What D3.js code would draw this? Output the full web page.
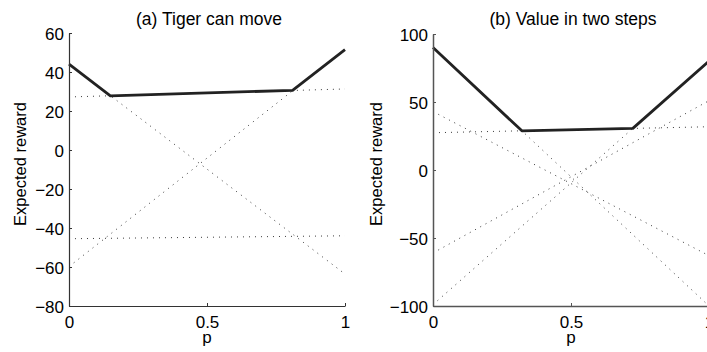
<!DOCTYPE html>
<html><head><meta charset="utf-8">
<script src="https://cdn.jsdelivr.net/npm/d3@7"></script>
<style>
body{margin:0;background:#fff}
svg{display:block}
text{font-family:"Liberation Sans",Arial,Helvetica,sans-serif;fill:#000}
</style>
</head><body><svg id="c" width="707" height="352"></svg>
<script>
// ---- data ----
const pTicks = [0, 0.5, 1];
const xLabel = "p";
const yLabel = "Expected reward";

const aTitle = "(a) Tiger can move";
const aYTicks = [-80, -60, -40, -20, 0, 20, 40, 60];
const aEnvP = [0, 0.15, 0.81, 1];
const aEnvV = [44, 27.8, 30.6, 51.5];
const aAlphaStart = [27.2, 44, -59.8, -45.5];
const aAlphaEnd = [31.3, -63.6, 51.5, -44];

const bTitle = "(b) Value in two steps";
const bYTicks = [-100, -50, 0, 50, 100];
const bEnvP = [0, 0.322, 0.724, 1];
const bEnvV = [90, 28.8, 30.6, 80];
const bAlphaStart = [27.4, 90, 43, -61, -99];
const bAlphaEnd = [31.8, -100, -63, 51, 80];

// ---- drawing ----
const svg = d3.select("#c");
const fmt = d => d < 0 ? "\u2212" + Math.abs(d) : String(d);

function panel(o) {
  const x = d3.scaleLinear().domain([0, 1]).range([o.x0, o.x1]);
  const y = d3.scaleLinear().domain([o.yTicks[0], o.yTicks[o.yTicks.length - 1]]).range([306, o.yTop]);
  const g = svg.append("g");
  const line = d3.line().x(d => x(d[0])).y(d => y(d[1]));

  // dotted alpha vectors
  o.start.forEach((s, i) => {
    g.append("path").attr("d", line([[0, s], [1, o.end[i]]]))
      .attr("fill", "none").attr("stroke", "#3a3a3a").attr("stroke-width", 1)
      .attr("stroke-dasharray", "1,5");
  });
  // envelope
  g.append("path").attr("d", line(o.envP.map((p, i) => [p, o.envV[i]])))
    .attr("fill", "none").attr("stroke", "#222").attr("stroke-width", 2.8)
    .attr("stroke-linejoin", "round");

  // axes
  const ax = g.append("g").attr("transform", `translate(0,${y.range()[0]})`)
    .call(d3.axisBottom(x).tickValues(pTicks).tickFormat(fmt).tickSizeInner(-3).tickSizeOuter(0).tickPadding(10));
  const ay = g.append("g").attr("transform", `translate(${o.x0},0)`)
    .call(d3.axisLeft(y).tickValues(o.yTicks).tickFormat(fmt).tickSizeInner(-3).tickSizeOuter(0).tickPadding(5));
  [ax, ay].forEach(a => {
    a.selectAll("path.domain").attr("stroke", o.axisColor).attr("stroke-width", o.axisW);
    a.selectAll(".tick line").attr("stroke", o.axisColor);
    a.selectAll("text").attr("font-size", 17).attr("font-family", null).attr("fill", "#000");
  });
  ay.selectAll("text").attr("dy", "0.36em");

  g.append("text").attr("x", (o.x0 + o.x1) / 2 + 2).attr("y", 24.5)
    .attr("text-anchor", "middle").attr("font-size", 17.5).text(o.title);
  g.append("text").attr("x", x(0.5)).attr("y", 343)
    .attr("text-anchor", "middle").attr("font-size", 17).text(xLabel);
  g.append("text").attr("transform", `translate(${o.ylx},164) rotate(-90)`)
    .attr("text-anchor", "middle").attr("font-size", 16.5).text(yLabel);
}

panel({x0: 69, x1: 345, yTop: 33, yTicks: aYTicks, envP: aEnvP, envV: aEnvV,
  start: aAlphaStart, end: aAlphaEnd, title: aTitle, ylx: 25.5, axisColor: "#333", axisW: 1.2});
panel({x0: 433, x1: 709, yTop: 34, yTicks: bYTicks, envP: bEnvP, envV: bEnvV,
  start: bAlphaStart, end: bAlphaEnd, title: bTitle, ylx: 382, axisColor: "#555", axisW: 1.5});
</script>
</body></html>
